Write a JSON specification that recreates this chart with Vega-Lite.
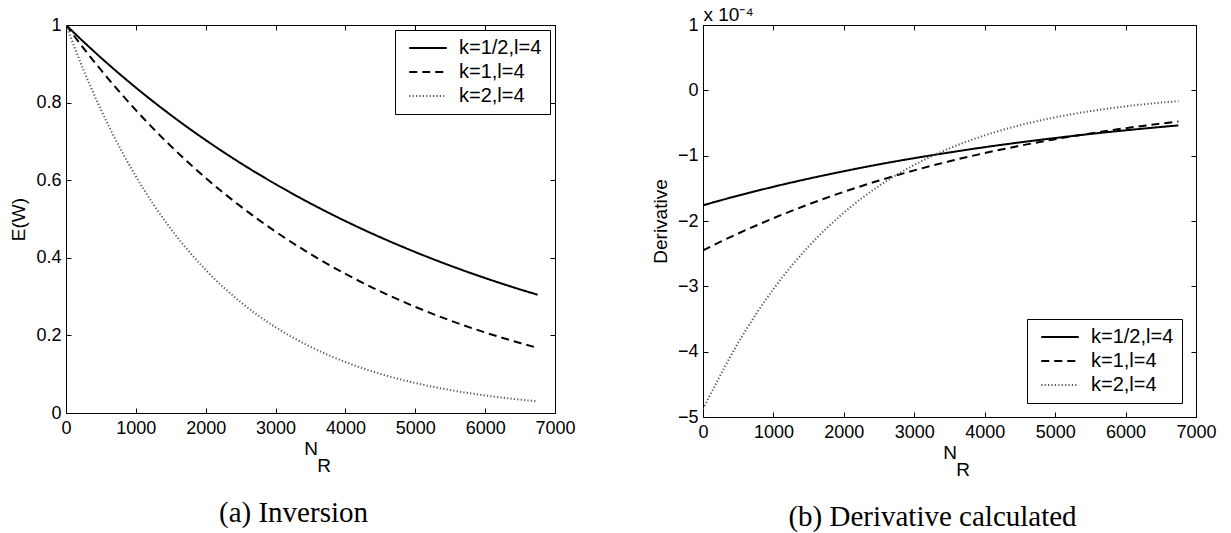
{
  "$schema": "https://vega.github.io/schema/vega-lite/v6.json",
  "background": "white",
  "padding": {"left": 9, "top": 5, "right": 10, "bottom": 5},
  "config": {
    "font": "Liberation Sans",
    "view": {"stroke": null},
    "axis": {"domainColor": "black", "domainWidth": 1, "tickColor": "black", "tickWidth": 1, "labelColor": "black", "labelFont": "Liberation Sans", "labelFontSize": 18, "titleFont": "Liberation Sans", "titleFontSize": 19, "titleFontWeight": "normal", "titleColor": "black", "grid": false, "labelFlush": false, "labelOverlap": false, "tickSize": -5},
    "title": {"font": "Liberation Serif", "fontSize": 29, "fontWeight": "normal", "color": "black", "orient": "bottom", "offset": 24, "dx": -17},
    "legend": {"strokeColor": "black", "strokeWidth": 1, "fillColor": "white", "padding": 8, "rowPadding": 4, "labelFontSize": 20, "labelFont": "Liberation Sans", "labelColor": "black", "symbolType": "M-2.5,0H2.5", "symbolSize": 225, "symbolOffset": 15, "labelOffset": 21, "cornerRadius": 0, "title": null}
  },
  "datasets": {
    "curves": [
      {"n": 0, "series": "k=1/2,l=4", "ew": 1, "d": -1.760},
      {"n": 250, "series": "k=1/2,l=4", "ew": 0.9570, "d": -1.684},
      {"n": 500, "series": "k=1/2,l=4", "ew": 0.9158, "d": -1.612},
      {"n": 1000, "series": "k=1/2,l=4", "ew": 0.8386, "d": -1.476},
      {"n": 1500, "series": "k=1/2,l=4", "ew": 0.7680, "d": -1.352},
      {"n": 2000, "series": "k=1/2,l=4", "ew": 0.7033, "d": -1.238},
      {"n": 2500, "series": "k=1/2,l=4", "ew": 0.6440, "d": -1.133},
      {"n": 3000, "series": "k=1/2,l=4", "ew": 0.5898, "d": -1.038},
      {"n": 3500, "series": "k=1/2,l=4", "ew": 0.5401, "d": -0.951},
      {"n": 4000, "series": "k=1/2,l=4", "ew": 0.4946, "d": -0.870},
      {"n": 4500, "series": "k=1/2,l=4", "ew": 0.4529, "d": -0.797},
      {"n": 5000, "series": "k=1/2,l=4", "ew": 0.4148, "d": -0.730},
      {"n": 5500, "series": "k=1/2,l=4", "ew": 0.3798, "d": -0.668},
      {"n": 6000, "series": "k=1/2,l=4", "ew": 0.3478, "d": -0.612},
      {"n": 6500, "series": "k=1/2,l=4", "ew": 0.3185, "d": -0.561},
      {"n": 6750, "series": "k=1/2,l=4", "ew": 0.3049, "d": -0.537},
      {"n": 0, "series": "k=1,l=4", "ew": 1, "d": -2.450},
      {"n": 250, "series": "k=1,l=4", "ew": 0.9404, "d": -2.317},
      {"n": 500, "series": "k=1,l=4", "ew": 0.8841, "d": -2.191},
      {"n": 1000, "series": "k=1,l=4", "ew": 0.7805, "d": -1.957},
      {"n": 1500, "series": "k=1,l=4", "ew": 0.6881, "d": -1.745},
      {"n": 2000, "series": "k=1,l=4", "ew": 0.6057, "d": -1.553},
      {"n": 2500, "series": "k=1,l=4", "ew": 0.5325, "d": -1.381},
      {"n": 3000, "series": "k=1,l=4", "ew": 0.4674, "d": -1.225},
      {"n": 3500, "series": "k=1,l=4", "ew": 0.4097, "d": -1.086},
      {"n": 4000, "series": "k=1,l=4", "ew": 0.3586, "d": -0.960},
      {"n": 4500, "series": "k=1,l=4", "ew": 0.3134, "d": -0.848},
      {"n": 5000, "series": "k=1,l=4", "ew": 0.2736, "d": -0.748},
      {"n": 5500, "series": "k=1,l=4", "ew": 0.2384, "d": -0.659},
      {"n": 6000, "series": "k=1,l=4", "ew": 0.2075, "d": -0.579},
      {"n": 6500, "series": "k=1,l=4", "ew": 0.1804, "d": -0.509},
      {"n": 6750, "series": "k=1,l=4", "ew": 0.1680, "d": -0.476},
      {"n": 0, "series": "k=2,l=4", "ew": 1, "d": -4.880},
      {"n": 250, "series": "k=2,l=4", "ew": 0.8845, "d": -4.353},
      {"n": 500, "series": "k=2,l=4", "ew": 0.7818, "d": -3.865},
      {"n": 1000, "series": "k=2,l=4", "ew": 0.6099, "d": -3.042},
      {"n": 1500, "series": "k=2,l=4", "ew": 0.4748, "d": -2.389},
      {"n": 2000, "series": "k=2,l=4", "ew": 0.3688, "d": -1.872},
      {"n": 2500, "series": "k=2,l=4", "ew": 0.2858, "d": -1.463},
      {"n": 3000, "series": "k=2,l=4", "ew": 0.2210, "d": -1.141},
      {"n": 3500, "series": "k=2,l=4", "ew": 0.1706, "d": -0.888},
      {"n": 4000, "series": "k=2,l=4", "ew": 0.1313, "d": -0.689},
      {"n": 4500, "series": "k=2,l=4", "ew": 0.1009, "d": -0.534},
      {"n": 5000, "series": "k=2,l=4", "ew": 0.0773, "d": -0.413},
      {"n": 5500, "series": "k=2,l=4", "ew": 0.0592, "d": -0.318},
      {"n": 6000, "series": "k=2,l=4", "ew": 0.0452, "d": -0.245},
      {"n": 6500, "series": "k=2,l=4", "ew": 0.0344, "d": -0.188},
      {"n": 6750, "series": "k=2,l=4", "ew": 0.0300, "d": -0.165}
    ]
  },
  "resolve": {
    "scale": {"x": "independent", "y": "independent", "color": "independent", "strokeDash": "independent", "strokeWidth": "independent"},
    "legend": {"color": "independent", "strokeDash": "independent", "strokeWidth": "independent"}
  },
  "spacing": 75,
  "hconcat": [
    {
      "width": 489,
      "height": 388,
      "title": {"text": "(a) Inversion"},
      "data": {"name": "curves"},
      "resolve": {"axis": {"x": "independent", "y": "independent"}},
      "layer": [
        {
          "mark": {"type": "line", "interpolate": "monotone", "clip": true},
          "encoding": {
            "x": {"field": "n", "type": "quantitative", "scale": {"domain": [0, 7000], "nice": false},
                  "axis": {"orient": "bottom", "values": [0, 1000, 2000, 3000, 4000, 5000, 6000, 7000], "format": "d", "labelPadding": 11, "title": ["N", "\u200b\u00a0\u00a0\u00a0\u00a0\u00a0R"], "titleLineHeight": 17, "titlePadding": 2}},
            "y": {"field": "ew", "type": "quantitative", "scale": {"domain": [0, 1], "nice": false},
                  "axis": {"orient": "left", "values": [0, 0.2, 0.4, 0.6, 0.8, 1], "format": "~g", "labelPadding": 10, "title": "E(W)", "titlePadding": 7}},
            "color": {"field": "series", "type": "nominal", "scale": {"domain": ["k=1/2,l=4", "k=1,l=4", "k=2,l=4"], "range": ["black", "black", "#555555"]},
                      "legend": {"orient": "top-right", "offset": 5}},
            "strokeDash": {"field": "series", "type": "nominal", "scale": {"domain": ["k=1/2,l=4", "k=1,l=4", "k=2,l=4"], "range": [[1, 0], [8, 5], [1.2, 2.2]]},
                      "legend": {"orient": "top-right", "offset": 5}},
            "strokeWidth": {"field": "series", "type": "nominal", "scale": {"domain": ["k=1/2,l=4", "k=1,l=4", "k=2,l=4"], "range": [2, 2, 1.2]},
                      "legend": {"orient": "top-right", "offset": 5}}
          }
        },
        {
          "mark": {"type": "point", "opacity": 0},
          "encoding": {
            "x": {"field": "n", "type": "quantitative", "scale": {"domain": [0, 7000], "nice": false},
                  "axis": {"orient": "top", "values": [0, 1000, 2000, 3000, 4000, 5000, 6000, 7000], "labels": false, "title": null}},
            "y": {"field": "ew", "type": "quantitative", "scale": {"domain": [0, 1], "nice": false},
                  "axis": {"orient": "right", "values": [0, 0.2, 0.4, 0.6, 0.8, 1], "labels": false, "title": null}}
          }
        }
      ]
    },
    {
      "width": 493,
      "height": 392,
      "title": {"text": "(b) Derivative calculated"},
      "data": {"name": "curves"},
      "resolve": {"axis": {"x": "independent", "y": "independent"}},
      "layer": [
        {
          "mark": {"type": "line", "interpolate": "monotone", "clip": true},
          "encoding": {
            "x": {"field": "n", "type": "quantitative", "scale": {"domain": [0, 7000], "nice": false},
                  "axis": {"orient": "bottom", "values": [0, 1000, 2000, 3000, 4000, 5000, 6000, 7000], "format": "d", "labelPadding": 11, "title": ["N", "\u200b\u00a0\u00a0\u00a0\u00a0\u00a0R"], "titleLineHeight": 17, "titlePadding": 2}},
            "y": {"field": "d", "type": "quantitative", "scale": {"domain": [-5, 1], "nice": false},
                  "axis": {"orient": "left", "values": [-5, -4, -3, -2, -1, 0, 1], "format": "d", "labelPadding": 10, "title": "Derivative", "titlePadding": 7}},
            "color": {"field": "series", "type": "nominal", "scale": {"domain": ["k=1/2,l=4", "k=1,l=4", "k=2,l=4"], "range": ["black", "black", "#555555"]},
                      "legend": {"orient": "bottom-right", "offset": 14}},
            "strokeDash": {"field": "series", "type": "nominal", "scale": {"domain": ["k=1/2,l=4", "k=1,l=4", "k=2,l=4"], "range": [[1, 0], [8, 5], [1.2, 2.2]]},
                      "legend": {"orient": "bottom-right", "offset": 14}},
            "strokeWidth": {"field": "series", "type": "nominal", "scale": {"domain": ["k=1/2,l=4", "k=1,l=4", "k=2,l=4"], "range": [2, 2, 1.2]},
                      "legend": {"orient": "bottom-right", "offset": 14}}
          }
        },
        {
          "mark": {"type": "point", "opacity": 0},
          "encoding": {
            "x": {"field": "n", "type": "quantitative", "scale": {"domain": [0, 7000], "nice": false},
                  "axis": {"orient": "top", "values": [0, 1000, 2000, 3000, 4000, 5000, 6000, 7000], "labels": false, "title": "x 10\u207b\u2074", "titleX": 0, "titleY": -5, "titleAlign": "left", "titleAnchor": "start", "titleBaseline": "alphabetic", "titleFontSize": 19}},
            "y": {"field": "d", "type": "quantitative", "scale": {"domain": [-5, 1], "nice": false},
                  "axis": {"orient": "right", "values": [-5, -4, -3, -2, -1, 0, 1], "labels": false, "title": null}}
          }
        }
      ]
    }
  ]
}
